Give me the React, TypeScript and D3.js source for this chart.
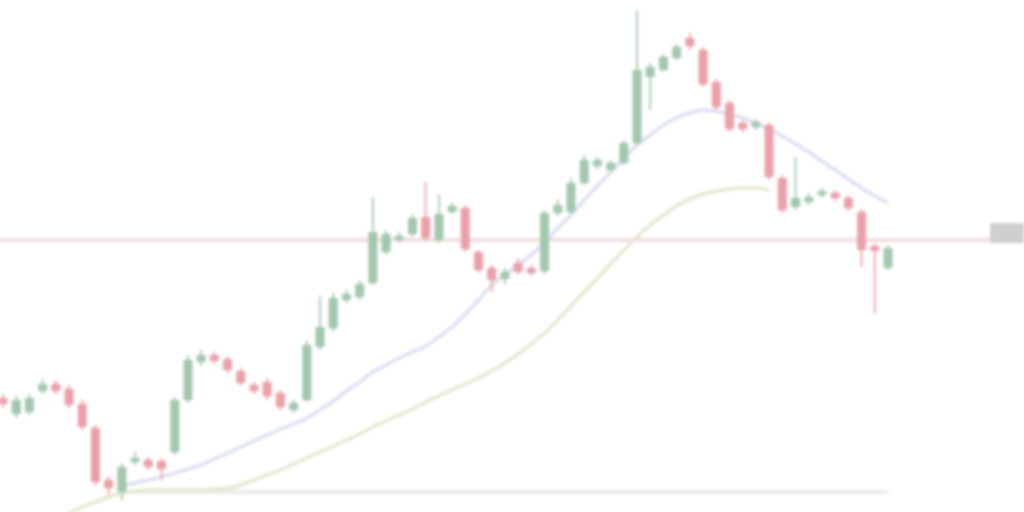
import React from "react";
import * as d3 from "d3";

// Candle data (arbitrary price units)
const opens = [114, 98, 100, 121, 128, 123, 108, 84, 32, 20, 50, 52, 51, 60, 112, 150, 157, 153, 141, 127, 130, 119, 102, 112, 165, 184, 212, 215, 229, 260, 272, 278, 295, 272, 300, 304, 260, 244, 233, 249, 244, 241, 299, 300, 329, 346, 342, 349, 369, 435, 442, 454, 474, 462, 430, 409, 389, 385, 387, 334, 305, 310, 317, 319, 314, 300, 266, 244];
const closes = [108, 112, 114, 128, 121, 107, 85, 30, 24, 45, 54, 45, 43, 112, 152, 157, 151, 142, 129, 121, 116, 105, 109, 167, 185, 214, 218, 228, 280, 278, 276, 294, 274, 298, 306, 263, 242, 232, 240, 240, 239, 299, 307, 329, 352, 352, 349, 369, 442, 445, 455, 465, 466, 428, 405, 383, 383, 390, 335, 302, 314, 315, 321, 314, 304, 262, 261, 264];
const highs = [118, 116, 118, 133, 132, 127, 112, 87, 36, 49, 60, 55, 54, 115, 157, 162, 160, 156, 144, 130, 134, 122, 112, 172, 216, 219, 222, 232, 315, 282, 280, 298, 330, 317, 309, 307, 262, 247, 244, 254, 247, 302, 312, 334, 357, 355, 352, 372, 502, 449, 458, 468, 479, 465, 433, 412, 392, 393, 390, 337, 355, 319, 324, 322, 317, 303, 269, 267];
const lows = [104, 94, 97, 118, 118, 104, 82, 26, 17, 12, 47, 42, 32, 57, 109, 146, 148, 139, 126, 118, 112, 102, 99, 110, 162, 180, 209, 212, 227, 257, 269, 275, 271, 269, 298, 260, 239, 220, 228, 237, 236, 238, 296, 298, 327, 343, 340, 347, 367, 402, 440, 452, 462, 425, 402, 380, 380, 382, 332, 299, 302, 307, 314, 311, 301, 245, 199, 242];

// Moving averages (start index + values)
const fastMAStart = 9;
const fastMA = [26, 29, 32, 35, 39, 43, 47, 53, 59, 65, 71, 77, 83, 88, 94, 102, 111, 121, 130, 140, 147, 154, 160, 166, 175, 185, 198, 212, 227, 237, 247, 257, 270, 284, 297, 312, 326, 340, 354, 367, 377, 387, 394, 399, 402, 401, 398, 394, 389, 383, 376, 368, 360, 351, 342, 333, 324, 316, 309];
const slowMAStart = 5;
const slowMA = [-1, 5, 10, 15, 19, 21, 22, 22, 22, 22, 22, 23, 24, 27, 32, 37, 42, 48, 54, 60, 66, 72, 78, 85, 91, 97, 103, 110, 116, 122, 128, 134, 141, 149, 158, 168, 179, 192, 206, 220, 234, 248, 262, 275, 287, 297, 306, 313, 318, 321, 323, 324, 324, 322];

// Horizontal levels
const priceLevel = 272;
const lowLevel = 20;
const lowLevelFrom = 9.5;
const lowLevelTo = 67;

const W = 1024;
const H = 512;

export default function App() {
  const n = opens.length;
  const x = d3.scaleLinear().domain([0, n - 1]).range([3, 888]);
  const y = d3.scaleLinear().domain([0, 512]).range([512, 0]);
  const bw = 9;

  const fastPts: [number, number][] = fastMA.map((v, i) => [x(fastMAStart + i), y(v)]);
  const slowPts: [number, number][] = slowMA.map((v, i) => [x(slowMAStart + i), y(v)]);
  const line = d3.line().curve(d3.curveMonotoneX);

  const up = "#a3c7ae";
  const down = "#eaa0a9";

  return (
    <svg
      width={W}
      height={H}
      style={{ position: "absolute", left: 0, top: 0, display: "block", background: "#ffffff" }}
    >
      <defs>
        <filter id="soft" x="-5%" y="-5%" width="110%" height="110%">
          <feGaussianBlur stdDeviation="1.8" />
        </filter>
      </defs>
      <rect x={0} y={0} width={W} height={H} fill="#ffffff" />
      <g filter="url(#soft)">
        <line x1={0} x2={990} y1={y(priceLevel)} y2={y(priceLevel)} stroke="#f1dede" strokeWidth={4} />
        <rect x={990} y={y(priceLevel) - 17} width={34} height={20} fill="#cfcfcf" />
        <line
          x1={x(lowLevelFrom)}
          x2={x(lowLevelTo)}
          y1={y(lowLevel)}
          y2={y(lowLevel)}
          stroke="#eaeaea"
          strokeWidth={4}
        />
        <path d={line(slowPts) || ""} fill="none" stroke="#e5e7d0" strokeWidth={3.5} />
        <path d={line(fastPts) || ""} fill="none" stroke="#dcdff3" strokeWidth={3.5} />
        {opens.map((o, i) => {
          const c = closes[i];
          const col = c >= o ? up : down;
          const top = y(Math.max(o, c));
          const bot = y(Math.min(o, c));
          return (
            <g key={i}>
              <line x1={x(i)} x2={x(i)} y1={y(highs[i])} y2={y(lows[i])} stroke={col} strokeWidth={1.8} />
              <rect x={x(i) - bw / 2} y={top} width={bw} height={Math.max(3, bot - top)} fill={col} />
            </g>
          );
        })}
      </g>
    </svg>
  );
}
